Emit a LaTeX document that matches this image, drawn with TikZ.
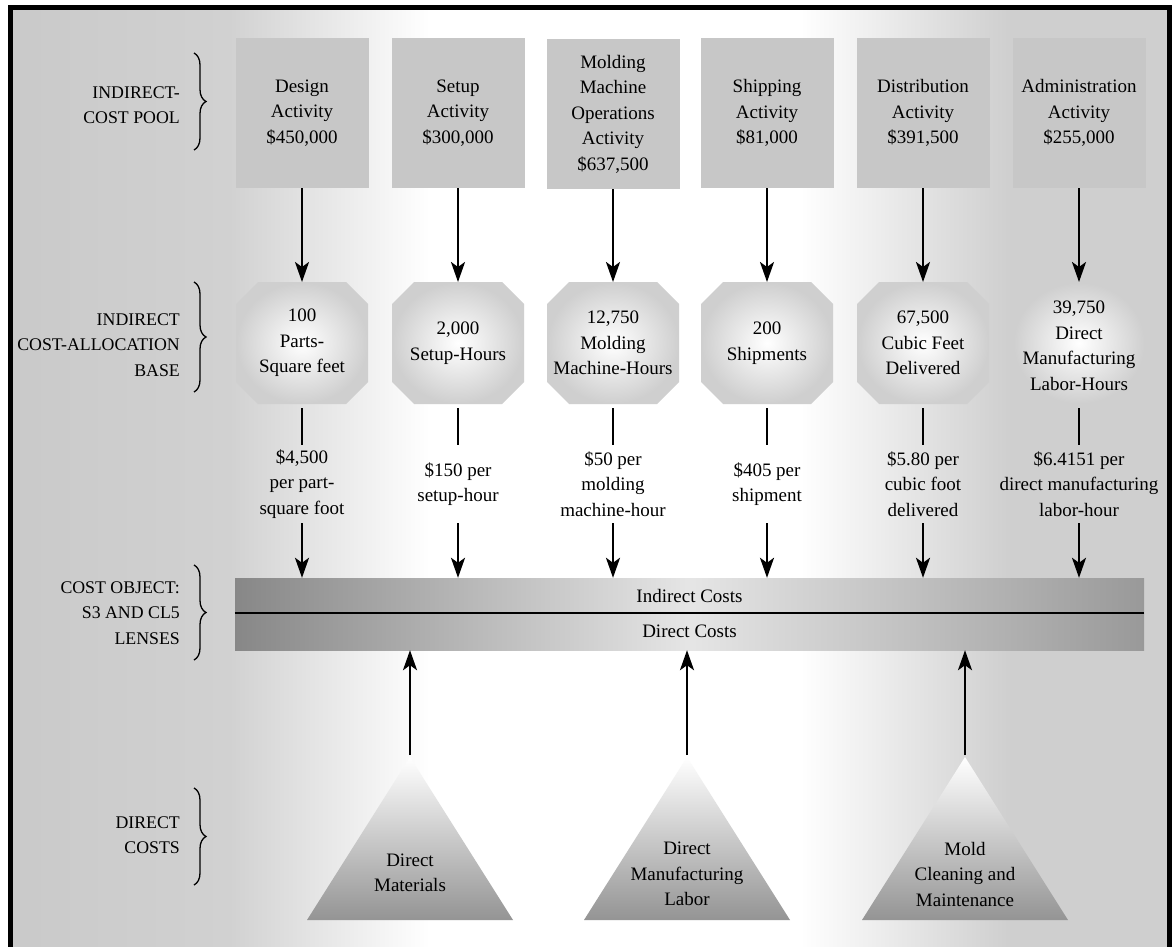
\documentclass[tikz,border=0pt]{standalone}
\usepackage{fontspec}
\setmainfont{Liberation Serif}
\usetikzlibrary{arrows.meta,decorations.pathreplacing,calc}

\tikzset{
  txt/.style={font=\fontsize{19}{25.5}\selectfont, align=center, inner sep=0pt, text=black},
  lbl/.style={font=\fontsize{17.8}{25.5}\selectfont, align=right, anchor=east, inner sep=0pt},
  pool/.style={txt, minimum width=133pt, minimum height=150pt, fill=black!22},
  base/.style={txt, minimum width=133pt, minimum height=122pt},
  rate/.style={txt, minimum height=78pt},
  band/.style={txt, minimum width=909pt, inner sep=0pt, shade,
    left color=black!47, right color=black!40, middle color=black!10},
  arr/.style={line width=2.4pt, -{Stealth[length=20pt,width=14pt,inset=5pt]}},
  link/.style={line width=2.4pt, shorten <=4pt},
  brc/.style={decorate, decoration={brace, amplitude=12pt}, line width=1.3pt},
  octo/.style={inner color=white, outer color=black!19},
  tri/.style={top color=white, bottom color=black!42},
}

% octagonal backdrop for an allocation base, centred at (#1,#2)
\newcommand\octagonat[2]{%
  \shade[octo] (#1-66,#2-39) -- (#1-44,#2-61) -- (#1+44,#2-61) -- (#1+66,#2-39)
    -- (#1+66,#2+39) -- (#1+44,#2+61) -- (#1-44,#2+61) -- (#1-66,#2+39) -- cycle;}

% triangular backdrop for a direct cost, centred horizontally at #1
\newcommand\pyramidat[1]{%
  \shade[tri] (#1,757) -- (#1+103,920) -- (#1-103,920) -- cycle;}

\begin{document}
\begin{tikzpicture}[x=1pt,y=-1pt]
\useasboundingbox (0,0) rectangle (1172,947);

% page background: grey at the sides, white in the middle
\fill[white] (0,0) rectangle (1172,947);
\shade[left color=black!21, right color=black!18] (10,8) rectangle (230,947);
\shade[left color=black!18, right color=white] (229.5,8) rectangle (430,947);
\shade[left color=white, right color=black!19] (800,8) rectangle (1010,947);
\fill[black!19] (1009.5,8) rectangle (1169,947);

% frame
\draw[line width=5pt, line join=miter] (10.5,947) -- (10.5,8) -- (1169,8) -- (1169,947);

% row labels with braces
\node[lbl] (lpool) at (180,105) {INDIRECT-\\COST POOL};
\node[lbl] (lbase) at (180,345) {INDIRECT\\COST-ALLOCATION\\BASE};
\node[lbl] (lobj)  at (180,613) {COST OBJECT:\\S3 AND CL5\\LENSES};
\node[lbl] (ldir)  at (180,835) {DIRECT\\COSTS};
\draw[brc] (194,53) -- (194,150);
\draw[brc] (194,282) -- (194,392);
\draw[brc] (194,565) -- (194,660);
\draw[brc] (194,788) -- (194,885);

% indirect-cost pools
\node[pool] (p1) at (302,113) {Design\\Activity\\\$450,000};
\node[pool] (p2) at (458,113) {Setup\\Activity\\\$300,000};
\node[pool] (p3) at (613,114) {Molding\\Machine\\Operations\\Activity\\\$637,500};
\node[pool] (p4) at (767,113) {Shipping\\Activity\\\$81,000};
\node[pool] (p5) at (923,113) {Distribution\\Activity\\\$391,500};
\node[pool] (p6) at (1079,113) {Administration\\Activity\\\$255,000};

% allocation bases
\octagonat{302}{343}
\octagonat{458}{343}
\octagonat{613}{343}
\octagonat{767}{343}
\octagonat{923}{343}
\octagonat{1079}{343}
\node[base] (b1) at (302,343) {100\\Parts-\\Square feet};
\node[base] (b2) at (458,343) {2,000\\Setup-Hours};
\node[base] (b3) at (613,343) {12,750\\Molding\\Machine-Hours};
\node[base] (b4) at (767,343) {200\\Shipments};
\node[base] (b5) at (923,343) {67,500\\Cubic Feet\\Delivered};
\node[base] (b6) at (1079,346) {39,750\\Direct\\Manufacturing\\Labor-Hours};

% allocation rates
\node[rate] (r1) at (302,484) {\$4,500\\per part-\\square foot};
\node[rate] (r2) at (458,484) {\$150 per\\setup-hour};
\node[rate] (r3) at (613,484) {\$50 per\\molding\\machine-hour};
\node[rate] (r4) at (767,484) {\$405 per\\shipment};
\node[rate] (r5) at (923,484) {\$5.80 per\\cubic foot\\delivered};
\node[rate] (r6) at (1079,484) {\$6.4151 per\\direct manufacturing\\labor-hour};

% cost object bar
\node[band, minimum height=35pt] (ind) at (689.5,595.5) {Indirect Costs};
\node[band, minimum height=37pt] (dir) at (689.5,631.5) {Direct Costs};
\draw[line width=2pt] (ind.south west) -- (ind.south east);

% pools -> bases -> rates -> cost object
\foreach \i in {1,...,6}{
  \draw[arr] (p\i.south) -- (b\i.north |- 0,282);
  \draw[link] (b\i.south |- 0,404) -- (r\i.north);
  \draw[arr] (r\i.south) -- (r\i.south |- ind.north);
}

% direct costs
\pyramidat{410}
\pyramidat{687}
\pyramidat{965}
\node[txt] (d1) at (410,873) {Direct\\Materials};
\node[txt] (d2) at (687,874) {Direct\\Manufacturing\\Labor};
\node[txt] (d3) at (965,874) {Mold\\Cleaning and\\Maintenance};
\coordinate (t1) at (410,755);
\coordinate (t2) at (687,755);
\coordinate (t3) at (965,755);
\foreach \i in {1,2,3}{
  \draw[arr] (t\i) -- (t\i |- dir.south);
}
\end{tikzpicture}
\end{document}
